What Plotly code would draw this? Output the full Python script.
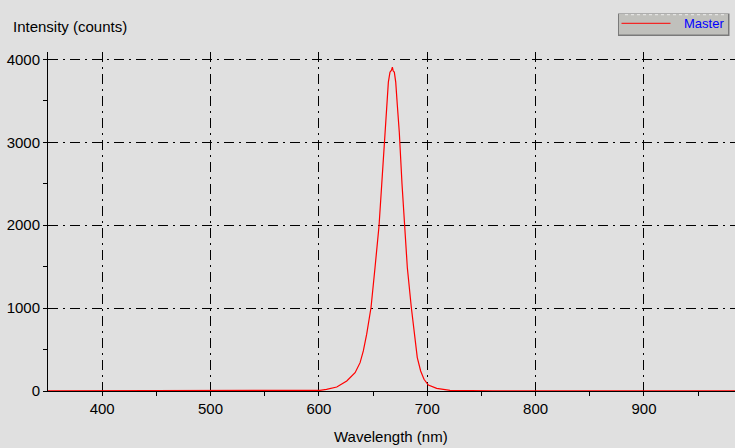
import plotly.graph_objects as go

# ---- data ----
wavelength_nm = [350, 400, 450, 500, 550, 580, 595, 601, 607, 616.5, 625.7, 633.4, 638, 641,
                 644.1, 646.3, 648.1, 651.8, 655.5, 658, 660.4, 661.0, 662.6, 664.1, 665.6,
                 667.0, 667.8, 668.6, 669.6, 670.9, 672.4, 674.2, 676.7, 678.8, 681.6, 685.3,
                 687.1, 688.7, 690.8, 693.9, 697, 701, 708.7, 721, 740, 760, 800, 850, 900,
                 950, 984]
intensity_counts = [2, 3, 2, 4, 5, 5, 6, 8, 20, 48, 121, 221, 342, 483,
                    685, 886, 1007, 1490, 1994, 2498, 2981, 3121, 3444, 3726, 3847,
                    3870, 3907, 3860, 3847, 3726, 3444, 3121, 2498, 1994, 1490, 1007,
                    806, 604, 403, 242, 141, 72, 32, 8, 4, 3, 2, 3, 2,
                    3, 2]

x_ticks = [400, 500, 600, 700, 800, 900]
y_ticks = [0, 1000, 2000, 3000, 4000]
x_range = [350, 984]
y_range = [0, 4090]
series_name = "Master"
x_title = "Wavelength (nm)"
y_title = "Intensity (counts)"

W, H = 735, 448
ML, MR, MT, MB = 48, 0, 52, 57
PW, PH = W - ML - MR, H - MT - MB


def px(xp):
    return (xp - ML) / PW


def py(yp):
    return (H - MB - yp) / PH


FONT = "Liberation Sans, Arial, sans-serif"
BG = "#e0e0e0"
GRID_DASH = "10px,5px,2px,5px"

fig = go.Figure()
fig.add_trace(go.Scatter(
    x=wavelength_nm, y=intensity_counts, mode="lines",
    line=dict(color="#ff0000", width=1.2), name=series_name, showlegend=False,
))

fig.update_layout(
    width=W, height=H,
    margin=dict(l=ML, r=MR, t=MT, b=MB),
    paper_bgcolor=BG, plot_bgcolor=BG,
    font=dict(family=FONT, size=15, color="#000000"),
    showlegend=False,
)

fig.update_xaxes(
    range=x_range, tickvals=x_ticks, ticktext=[str(v) for v in x_ticks],
    showgrid=True, gridcolor="#000000", gridwidth=1, griddash=GRID_DASH,
    showline=True, linecolor="#000000", linewidth=1,
    ticks="outside", ticklen=4, tickcolor="#000000",
    minor=dict(tickvals=[450, 550, 650, 750, 850, 950], ticks="outside", ticklen=4,
               tickcolor="#000000", showgrid=False),
    zeroline=False, tickfont=dict(size=15),
)
fig.update_yaxes(
    range=y_range, tickvals=y_ticks, ticktext=[str(v) for v in y_ticks],
    showgrid=True, gridcolor="#000000", gridwidth=1, griddash=GRID_DASH,
    showline=True, linecolor="#000000", linewidth=1,
    ticks="outside", ticklen=4, tickcolor="#000000",
    minor=dict(tickvals=[500, 1500, 2500, 3500], ticks="outside", ticklen=4,
               tickcolor="#000000", showgrid=False),
    zeroline=False, tickfont=dict(size=15),
)

# axis titles
fig.add_annotation(text=y_title, xref="paper", yref="paper", x=px(11), y=py(26),
                   xanchor="left", yanchor="middle", showarrow=False,
                   font=dict(family=FONT, size=15, color="#000000"))
fig.add_annotation(text=x_title, xref="paper", yref="paper", x=px(391), y=py(436),
                   xanchor="center", yanchor="middle", showarrow=False,
                   font=dict(family=FONT, size=15, color="#000000"))

# legend box (3D button style)
shapes = [
    dict(type="rect", xref="paper", yref="paper", x0=px(618), x1=px(729.5), y0=py(13.5), y1=py(36),
         fillcolor="#7a7a7a", line=dict(width=0), layer="above"),
    dict(type="rect", xref="paper", yref="paper", x0=px(619), x1=px(728), y0=py(14), y1=py(34.5),
         fillcolor="#c0c0bc", line=dict(width=0), layer="above"),
    dict(type="line", xref="paper", yref="paper", x0=px(625), x1=px(727), y0=py(14.7), y1=py(14.7),
         line=dict(color="#ececec", width=1, dash="dot"), layer="above"),
    dict(type="line", xref="paper", yref="paper", x0=px(621.5), x1=px(670.5), y0=py(23.3), y1=py(23.3),
         line=dict(color="#ff0000", width=1), layer="above"),
]
fig.update_layout(shapes=shapes)
fig.add_annotation(text=series_name, xref="paper", yref="paper", x=px(726), y=py(24),
                   xanchor="right", yanchor="middle", showarrow=False,
                   font=dict(family=FONT, size=13, color="#0000ff"))

fig.write_html(
    "out.html",
    config={"displayModeBar": False},
    post_script="document.body.style.margin='0';document.body.style.overflow='hidden';",
)
